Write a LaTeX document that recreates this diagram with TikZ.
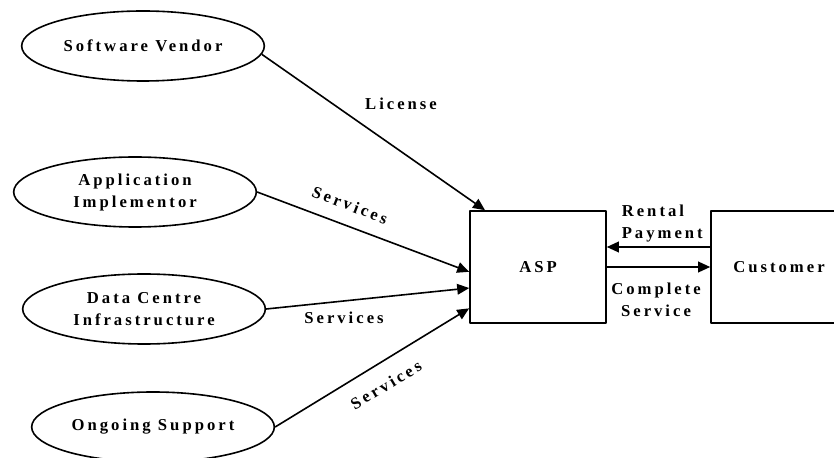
\documentclass[tikz,border=0pt]{standalone}
\usepackage{fontspec}
\setmainfont{Liberation Serif}[LetterSpace=18]
\usetikzlibrary{shapes.geometric,arrows.meta}
\begin{document}
\begin{tikzpicture}[>={Triangle[length=9bp,width=8bp]},line join=bevel,line width=1.2bp,
  font=\fontsize{12.5bp}{16.5bp}\selectfont\bfseries,
  party/.style={draw,ellipse,minimum width=182bp,minimum height=52.5bp,inner sep=0pt,align=center},
  firm/.style={draw,rectangle,minimum width=102bp,minimum height=84bp,inner sep=0pt},
  flowlbl/.style={inner sep=0pt}]
%%
\useasboundingbox (0bp,0bp) rectangle (625.5bp,343.5bp);
  \node (sv) at (107.25bp,309bp) [party] {Software Vendor};
  \node (ai) at (101.25bp,199.5bp) [party] {Application\\Implementor};
  \node (dc) at (108bp,111.75bp) [party] {Data Centre\\Infrastructure};
  \node (os) at (114.75bp,23.25bp) [party] {Ongoing Support};
  \node (asp) at (403.5bp,143.25bp) [firm] {ASP};
  \node (cust) at (584.25bp,143.25bp) [firm] {Customer};
  \node (lic) at (300.75bp,265.5bp) [flowlbl] {License};
  \node (srv1) at (262.5bp,189.75bp) [flowlbl,rotate=-21] {Services};
  \node (srv2) at (258bp,105bp) [flowlbl] {Services};
  \node (srv3) at (289.5bp,54.75bp) [flowlbl,rotate=31] {Services};
  \node (rent) at (465.75bp,175.5bp) [flowlbl,anchor=west,align=left] {Rental\\Payment};
  \node (comp) at (492bp,118.5bp) [flowlbl,align=center] {Complete\\Service};
  \draw [->,solid] (sv.-4) -- (asp.133);
  \draw [->,solid] (ai.east) -- (asp.184);
  \draw [->,solid] (dc.east) -- (asp.197);
  \draw [->,solid] (os.east) -- (asp.211);
  \draw [->,solid] ([yshift=15bp]cust.west) -- ([yshift=15bp]asp.east);
  \draw [->,solid] (asp.east) -- (cust.west);
%
\end{tikzpicture}
\end{document}
